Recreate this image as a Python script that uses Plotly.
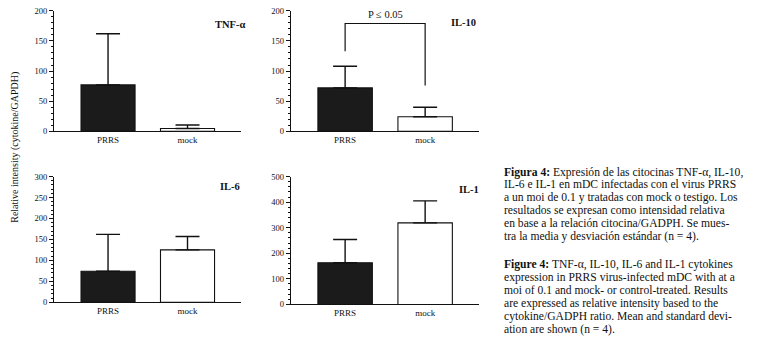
import plotly.graph_objects as go

W, H = 767, 348

categories = ["PRRS", "mock"]
panel_names = ["TNF-α", "IL-10", "IL-6", "IL-1"]
tnf_mean = [77, 4.5]
tnf_sd = [85, 6]
il10_mean = [72, 24]
il10_sd = [36, 16]
il6_mean = [74, 125]
il6_sd = [88, 32]
il1_mean = [163, 319]
il1_sd = [91, 86]
y_max = [200, 200, 300, 500]
y_major = [50, 50, 50, 100]
y_minor = [10, 10, 10, 20]
# significance bracket in IL-10 panel (left foot, top, right foot)
bracket_y = [133, 179, 76]
p_text = "P ≤ 0.05"

caption_es = [
    "<b>Figura 4:</b> Expresión de las citocinas TNF-α, IL-10,",
    "IL-6 e IL-1 en mDC infectadas con el virus PRRS",
    "a un moi de 0.1 y tratadas con mock o testigo. Los",
    "resultados se expresan como intensidad relativa",
    "en base a la relación citocina/GADPH. Se mues-",
    "tra la media y desviación estándar (n = 4).",
]
caption_en = [
    "<b>Figure 4:</b> TNF-α, IL-10, IL-6 and IL-1 cytokines",
    "expression in PRRS virus-infected mDC with at a",
    "moi of 0.1 and mock- or control-treated. Results",
    "are expressed as relative intensity based to the",
    "cytokine/GADPH ratio. Mean and standard devi-",
    "ation are shown (n = 4).",
]

SERIF = "Liberation Serif, Times New Roman, serif"
INK = "#111111"


def fx(px):
    return px / W


def fy(py):
    return 1 - py / H


# pixel boxes: (x0, x1, ytop, ybottom)
boxes = [
    (54, 241, 6, 130),
    (290.7, 479, 6, 130),
    (54, 241, 176.7, 306),
    (290.7, 479, 176.7, 308.3),
]
means = [tnf_mean, il10_mean, il6_mean, il1_mean]
sds = [tnf_sd, il10_sd, il6_sd, il1_sd]

fig = go.Figure()
layout = {}
for i in range(4):
    xa = "x" if i == 0 else f"x{i+1}"
    ya = "y" if i == 0 else f"y{i+1}"
    fig.add_trace(go.Bar(
        x=categories, y=means[i], xaxis=xa, yaxis=ya,
        marker=dict(color=["#1b1b1b", "#ffffff"], line=dict(color=INK, width=1.1)),
        width=0.68,
        error_y=dict(type="data", symmetric=False, array=sds[i], arrayminus=[0, 0],
                     color=INK, thickness=1.4, width=12),
        showlegend=False, hoverinfo="skip",
    ))
    x0, x1, yt, yb = boxes[i]
    layout["xaxis" if i == 0 else f"xaxis{i+1}"] = dict(
        domain=[fx(x0), fx(x1)], anchor=ya, range=[-0.68, 1.673],
        showline=True, linecolor=INK, linewidth=1.2, ticks="",
        tickfont=dict(family=SERIF, size=9, color=INK), showgrid=False,
        zeroline=False, fixedrange=True,
    )
    layout["yaxis" if i == 0 else f"yaxis{i+1}"] = dict(
        domain=[fy(yb), fy(yt)], anchor=xa, range=[0, y_max[i]],
        showline=True, linecolor=INK, linewidth=1.2, ticks="outside",
        ticklen=4, tickcolor=INK, tickwidth=1.1, dtick=y_major[i], tick0=0,
        tickfont=dict(family=SERIF, size=8.5, color=INK), showgrid=False,
        zeroline=False, fixedrange=True,
        minor=dict(dtick=y_minor[i], ticks="outside", ticklen=2, tickcolor=INK, tickwidth=1),
    )

fig.update_layout(
    width=W, height=H, margin=dict(l=0, r=0, t=0, b=0),
    paper_bgcolor="white", plot_bgcolor="white",
    **layout,
)

# significance bracket
fig.add_shape(type="path", xref="x2", yref="y2",
              path=f"M 0 {bracket_y[0]} L 0 {bracket_y[1]} L 1 {bracket_y[1]} L 1 {bracket_y[2]}",
              line=dict(color=INK, width=1.2))
fig.add_annotation(xref="x2", yref="y2", x=0.5, y=bracket_y[1], text=p_text,
                   showarrow=False, yanchor="bottom", yshift=1,
                   font=dict(family=SERIF, size=10.5, color=INK))

# panel labels
label_pos = [(230, 20), (463, 18), (230, 187), (469, 190)]
for name, (lx, ly) in zip(panel_names, label_pos):
    fig.add_annotation(xref="paper", yref="paper", x=fx(lx), y=fy(ly),
                       text=f"<b>{name}</b>", showarrow=False,
                       xanchor="center", yanchor="middle",
                       font=dict(family=SERIF, size=10.5, color=INK))

# shared y title
fig.add_annotation(xref="paper", yref="paper", x=fx(15), y=fy(147),
                   text="Relative intensity (cytokine/GAPDH)", textangle=-90,
                   showarrow=False, xanchor="center", yanchor="middle",
                   font=dict(family=SERIF, size=10, color=INK))

# captions
for k, line in enumerate(caption_es):
    fig.add_annotation(xref="paper", yref="paper", x=fx(502), y=fy(172 + k * 13.3),
                       text=line, showarrow=False, xanchor="left", yanchor="middle",
                       font=dict(family=SERIF, size=11.6, color=INK))
for k, line in enumerate(caption_en):
    fig.add_annotation(xref="paper", yref="paper", x=fx(502), y=fy(267.5 + k * 13.3),
                       text=line, showarrow=False, xanchor="left", yanchor="middle",
                       font=dict(family=SERIF, size=11.6, color=INK))

# remove the browser's default 8px body margin so the figure sits at the window corner
fig.write_html("out.html", config={"displayModeBar": False},
               post_script="document.body.style.margin='0px';")
